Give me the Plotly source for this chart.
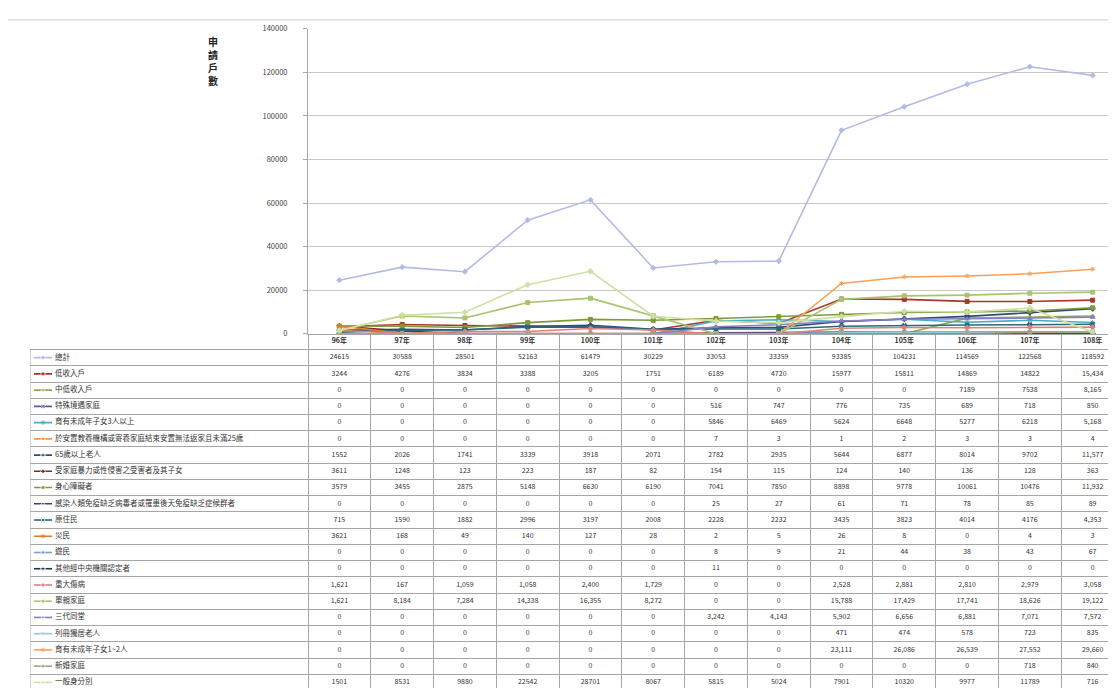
import plotly.graph_objects as go

W, H = 1116, 688

years = ["96年", "97年", "98年", "99年", "100年", "101年", "102年", "103年",
         "104年", "105年", "106年", "107年", "108年"]

series_names = [
    "總計", "低收入戶", "中低收入戶", "特殊境遇家庭", "育有未成年子女3人以上",
    "於安置教養機構或寄養家庭結束安置無法返家且未滿25歲", "65歲以上老人",
    "受家庭暴力或性侵害之受害者及其子女", "身心障礙者",
    "感染人類免疫缺乏病毒者或罹患後天免疫缺乏症候群者", "原住民", "災民", "遊民",
    "其他經中央機關認定者", "重大傷病", "單親家庭", "三代同堂", "列冊獨居老人",
    "育有未成年子女1~2人", "新婚家庭", "一般身分別",
]

total          = [24615, 30588, 28501, 52163, 61479, 30229, 33053, 33359, 93385, 104231, 114569, 122568, 118592]
low_income     = [3244, 4276, 3834, 3388, 3205, 1751, 6189, 4720, 15977, 15811, 14869, 14822, 15434]
mid_low_income = [0, 0, 0, 0, 0, 0, 0, 0, 0, 0, 7189, 7538, 8165]
special_family = [0, 0, 0, 0, 0, 0, 516, 747, 776, 735, 689, 718, 850]
kids_3plus     = [0, 0, 0, 0, 0, 0, 5846, 6469, 5624, 6648, 5277, 6218, 5168]
foster_leavers = [0, 0, 0, 0, 0, 0, 7, 3, 1, 2, 3, 3, 4]
elderly_65     = [1552, 2026, 1741, 3339, 3918, 2071, 2782, 2935, 5644, 6877, 8014, 9702, 11577]
domestic_viol  = [3611, 1248, 123, 223, 187, 82, 154, 115, 124, 140, 136, 128, 363]
disabled       = [3579, 3455, 2875, 5148, 6630, 6190, 7041, 7850, 8898, 9778, 10061, 10476, 11932]
hiv_aids       = [0, 0, 0, 0, 0, 0, 25, 27, 61, 71, 78, 85, 89]
indigenous     = [715, 1590, 1882, 2996, 3197, 2008, 2228, 2232, 3435, 3823, 4014, 4176, 4353]
disaster       = [3621, 168, 49, 140, 127, 28, 2, 5, 26, 8, 0, 4, 3]
homeless       = [0, 0, 0, 0, 0, 0, 8, 9, 21, 44, 38, 43, 67]
other_central  = [0, 0, 0, 0, 0, 0, 11, 0, 0, 0, 0, 0, 0]
major_illness  = [1621, 167, 1059, 1058, 2400, 1729, 0, 0, 2528, 2881, 2810, 2979, 3058]
single_parent  = [1621, 8184, 7284, 14338, 16355, 8272, 0, 0, 15788, 17429, 17741, 18626, 19122]
three_gen      = [0, 0, 0, 0, 0, 0, 3242, 4143, 5902, 6656, 6881, 7071, 7572]
lone_elderly   = [0, 0, 0, 0, 0, 0, 0, 0, 471, 474, 578, 723, 835]
kids_1to2      = [0, 0, 0, 0, 0, 0, 0, 0, 23111, 26086, 26539, 27552, 29660]
newlywed       = [0, 0, 0, 0, 0, 0, 0, 0, 0, 0, 0, 718, 840]
general        = [1501, 8531, 9880, 22542, 28701, 8067, 5815, 5024, 7901, 10320, 9977, 11789, 716]

series_values = [total, low_income, mid_low_income, special_family, kids_3plus,
                 foster_leavers, elderly_65, domestic_viol, disabled, hiv_aids,
                 indigenous, disaster, homeless, other_central, major_illness,
                 single_parent, three_gen, lone_elderly, kids_1to2, newlywed, general]

colors = ["#B3BBE2", "#A8362C", "#8FA85A", "#6A5391", "#4BACC6", "#F79646",
          "#2C4D75", "#772C2A", "#7E9A3A", "#4D3B62", "#276A7C", "#D9822B",
          "#7DA2D2", "#1F3556", "#E0807A", "#A9C46E", "#8C7CC4", "#8FCBDC",
          "#F5A15C", "#A8A080", "#CFE0A2"]
symbols = ["diamond", "square", "triangle-up", "x", "asterisk-open", "circle",
           "cross", "diamond", "square", "triangle-up", "x", "asterisk-open",
           "circle", "cross", "diamond", "square", "triangle-up", "x",
           "asterisk-open", "circle", "cross"]

# rows whose table cells are shown with thousands separators
comma_rows = {14, 15, 16, 17, 18, 19}
no_comma_last = {0, 20}

FONT = "Noto Sans CJK TC, Noto Sans, sans-serif"

# geometry (pixels)
plot_left, plot_top, plot_bottom = 300, 15, 325
col_w = (W - plot_left) / len(years)
table_left = 22
header_h, row_h = 16, 16.5
table_h = H - plot_bottom

fig = go.Figure()

# ---- chart lines ----
for name, vals, c, s in zip(series_names, series_values, colors, symbols):
    fig.add_trace(go.Scatter(
        x=years, y=vals, name=name, mode="lines+markers",
        line=dict(color=c, width=1.6),
        marker=dict(symbol=s, size=4, color=c, line=dict(color=c, width=1)),
        showlegend=False, xaxis="x", yaxis="y"))

# ---- data table (on its own axes) ----
x2_min = -0.5 - (plot_left - table_left) / col_w


def px_to_x2(px):
    return x2_min + (px - table_left) / col_w


# header row
fig.add_trace(go.Scatter(
    x=list(range(len(years))), y=[header_h / 2] * len(years),
    text=[f"<b>{y}</b>" for y in years],
    mode="text", textfont=dict(size=7, color="#333", family=FONT),
    hoverinfo="skip", showlegend=False, xaxis="x2", yaxis="y2"))

for i, (name, vals, c, s) in enumerate(zip(series_names, series_values, colors, symbols)):
    yc = header_h + row_h * i + row_h / 2
    texts = []
    for j, v in enumerate(vals):
        use_comma = (i in comma_rows) or (j == len(vals) - 1 and i not in no_comma_last)
        texts.append(f"{v:,}" if use_comma else f"{v}")
    fig.add_trace(go.Scatter(
        x=list(range(len(vals))), y=[yc] * len(vals), text=texts, mode="text",
        textfont=dict(size=7, color="#333", family=FONT),
        hoverinfo="skip", showlegend=False, xaxis="x2", yaxis="y2"))
    # legend key
    fig.add_trace(go.Scatter(
        x=[px_to_x2(26), px_to_x2(35), px_to_x2(44)], y=[yc] * 3,
        mode="lines+markers", line=dict(color=c, width=1.6),
        marker=dict(symbol=s, size=[0, 4, 0], color=c),
        hoverinfo="skip", showlegend=False, xaxis="x2", yaxis="y2"))
    # row label
    fig.add_trace(go.Scatter(
        x=[px_to_x2(47)], y=[yc], text=[name], mode="text",
        textposition="middle right",
        textfont=dict(size=7.5, color="#333", family=FONT),
        hoverinfo="skip", showlegend=False, xaxis="x2", yaxis="y2"))

row_bounds = [header_h + row_h * k for k in range(len(series_names) + 1)]
col_bounds = [k - 0.5 for k in range(len(years) + 1)]

fig.add_shape(type="line", xref="x2", yref="y2", x0=x2_min, x1=x2_min,
              y0=header_h, y1=table_h, line=dict(color="#a6a6a6", width=1))
# chart outer border at top
fig.add_shape(type="line", xref="paper", yref="paper", x0=0, x1=1,
              y0=1 - 6 / H, y1=1 - 6 / H, line=dict(color="#d0d0d0", width=1))

fig.add_annotation(text="<b>申<br>請<br>戶<br>數</b>", xref="paper", yref="paper",
                   x=205 / W, y=1 - 18 / H, showarrow=False,
                   font=dict(size=10, color="#222", family=FONT),
                   xanchor="center", yanchor="top")

fig.update_layout(
    width=W, height=H, margin=dict(l=0, r=0, t=0, b=0),
    paper_bgcolor="white", plot_bgcolor="white",
    font=dict(family=FONT, size=8, color="#333"),
    xaxis=dict(domain=[plot_left / W, 1], type="category", categoryarray=years,
               range=[-0.5, len(years) - 0.5], showticklabels=False,
               showgrid=False, showline=True, linecolor="#a6a6a6",
               zeroline=False, anchor="y"),
    yaxis=dict(domain=[1 - plot_bottom / H, 1 - plot_top / H], range=[0, 140000],
               dtick=20000, tickformat="d", showgrid=True, gridcolor="#c8c8c8",
               showline=True, linecolor="#a6a6a6", ticks="outside", ticklen=4,
               tickcolor="#a6a6a6", zeroline=False, ticklabelstandoff=14,
               tickfont=dict(size=7.5, color="#444"), anchor="x"),
    xaxis2=dict(domain=[table_left / W, 1], range=[x2_min, len(years) - 0.5],
                tickvals=col_bounds, showticklabels=False, showgrid=True,
                gridcolor="#a6a6a6", gridwidth=1, zeroline=False, anchor="y2"),
    yaxis2=dict(domain=[0, 1 - plot_bottom / H], range=[table_h, 0],
                tickvals=row_bounds, showticklabels=False, showgrid=True,
                gridcolor="#a6a6a6", gridwidth=1, zeroline=False, anchor="x2"),
)

fig.write_html("out.html")
